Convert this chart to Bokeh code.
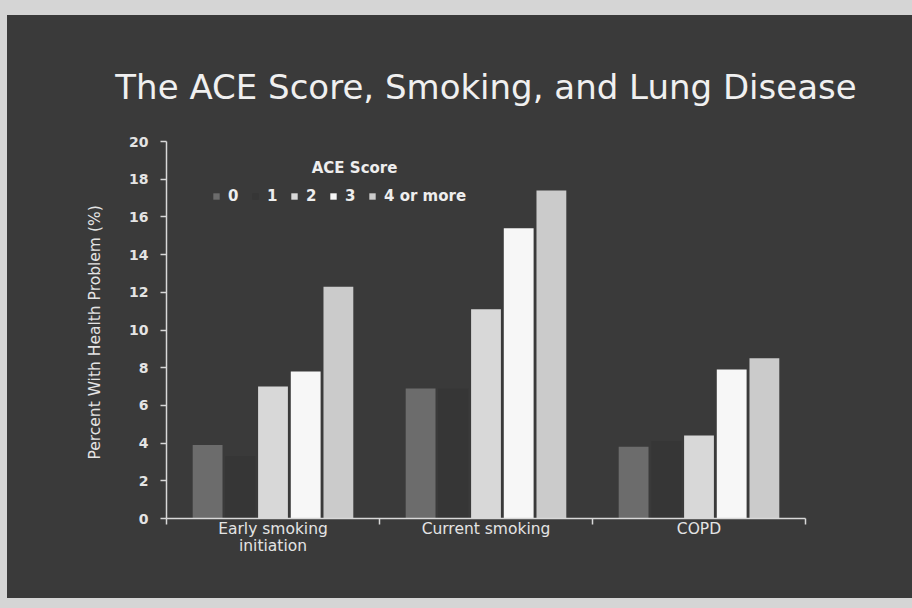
from bokeh.plotting import figure
from bokeh.models import (Range1d, FactorRange, FixedTicker, CategoricalAxis,
                          CategoricalTicker, CustomJSTickFormatter, ColumnDataSource,
                          Legend, LegendItem, Label)
from bokeh.transform import dodge
from bokeh.layouts import column
from bokeh.embed import file_html
from bokeh.resources import INLINE

# ---- data -------------------------------------------------------------
categories = ["Early smoking initiation", "Current smoking", "COPD"]
label_line_1 = ["Early smoking", "Current smoking", "COPD"]
label_line_2 = ["initiation", "", ""]
score_labels = ["0", "1", "2", "3", "4 or more"]
ace_0 = [3.9, 6.9, 3.8]
ace_1 = [3.3, 6.9, 4.1]
ace_2 = [7.0, 11.1, 4.4]
ace_3 = [7.8, 15.4, 7.9]
ace_4 = [12.3, 17.4, 8.5]
y_ticks = [0, 2, 4, 6, 8, 10, 12, 14, 16, 18, 20]

# ---- styling ----------------------------------------------------------
BG = "#3a3a3a"
TEXT = "#e4e4e4"
AXIS = "#d8d8d8"
bar_colors = ["#6c6c6c", "#363636", "#d8d8d8", "#f7f7f7", "#cbcbcb"]
bar_offsets = [-0.307, -0.1535, 0.0, 0.1535, 0.307]
bar_width = 0.14

source = ColumnDataSource(dict(cat=categories, s0=ace_0, s1=ace_1, s2=ace_2,
                               s3=ace_3, s4=ace_4))

p = figure(width=905, height=583,
           x_range=FactorRange(*categories, range_padding=0),
           y_range=Range1d(0, 20),
           x_axis_location=None,
           output_backend="svg", toolbar_location=None,
           min_border_left=159, min_border_right=107,
           min_border_top=126, min_border_bottom=80)
# one dark surface behind the whole figure (no seam between frame and border)
p.styles = {"background-color": BG}
p.background_fill_alpha = 0
p.border_fill_alpha = 0
p.outline_line_color = None
p.grid.visible = False

# title
p.title.text = "The ACE Score, Smoking, and Lung Disease"
p.title.align = "center"
p.title.text_font = "DejaVu Sans"
p.title.text_font_style = "normal"
p.title.text_font_size = "34px"
p.title.text_color = "#f0f0f0"
p.title.standoff = 70

# bars
renderers = []
for i, (col, color) in enumerate(zip(["s0", "s1", "s2", "s3", "s4"], bar_colors)):
    r = p.vbar(x=dodge("cat", bar_offsets[i], range=p.x_range), top=col,
               width=bar_width, source=source, fill_color=color, line_color=None)
    renderers.append(r)

# y axis
yax = p.yaxis[0]
yax.ticker = FixedTicker(ticks=y_ticks)
yax.axis_label = "Percent With Health Problem  (%)"
yax.axis_label_text_font = "DejaVu Sans"
yax.axis_label_text_font_style = "normal"
yax.axis_label_text_font_size = "15.5px"
yax.axis_label_text_color = TEXT
yax.axis_label_standoff = 22
yax.major_label_text_font = "DejaVu Sans"
yax.major_label_text_font_style = "bold"
yax.major_label_text_font_size = "14px"
yax.major_label_text_color = TEXT
yax.major_label_standoff = 12
yax.axis_line_color = AXIS
yax.axis_line_width = 1.5
yax.major_tick_line_color = AXIS
yax.major_tick_line_width = 1.5
yax.major_tick_out = 6
yax.major_tick_in = 0
yax.minor_tick_line_color = None

# x axis line with ticks at the category boundaries (synthetic positions)
edge_axis = CategoricalAxis(
    ticker=FixedTicker(ticks=list(range(len(categories) + 1))),
    major_label_text_color=None, major_label_text_font_size="1px",
    major_label_standoff=0,
    axis_line_color=AXIS, axis_line_width=1.5,
    major_tick_line_color=AXIS, major_tick_line_width=1.5,
    major_tick_out=6, major_tick_in=0, minor_tick_line_color=None)
p.add_layout(edge_axis, "below")

# category names under the axis line, two rows
for lines, standoff in ((label_line_1, -5), (label_line_2, -4)):
    fmt = CustomJSTickFormatter(
        args=dict(keys=categories, names=lines),
        code="const i = keys.indexOf(tick); return i >= 0 ? names[i] : '';")
    name_axis = CategoricalAxis(
        ticker=CategoricalTicker(), formatter=fmt,
        major_label_text_font="DejaVu Sans", major_label_text_font_size="15.5px",
        major_label_text_color=TEXT, major_label_standoff=standoff,
        axis_line_color=None, major_tick_line_color=None, major_tick_out=0,
        major_tick_in=0, minor_tick_line_color=None)
    p.add_layout(name_axis, "below")

# legend
legend = Legend(items=[LegendItem(label=lab, renderers=[r])
                       for lab, r in zip(score_labels, renderers)],
                orientation="horizontal", location=(46, 313),
                glyph_width=8, glyph_height=8, label_standoff=8, spacing=3,
                padding=0, margin=0, label_height=16,
                background_fill_alpha=0, border_line_alpha=0,
                label_text_color="#eeeeee", label_text_font="DejaVu Sans",
                label_text_font_style="bold", label_text_font_size="15px")
p.add_layout(legend)

p.add_layout(Label(x=0.883, y=18.62, text="ACE Score", text_align="center",
                   text_baseline="middle", text_font="DejaVu Sans",
                   text_font_style="bold", text_font_size="15px",
                   text_color="#eeeeee"))

page = column(p, styles={"background-color": "#d5d5d5",
                         "padding": "15px 0px 10px 7px"})

open("out.html", "w").write(file_html(page, INLINE))
